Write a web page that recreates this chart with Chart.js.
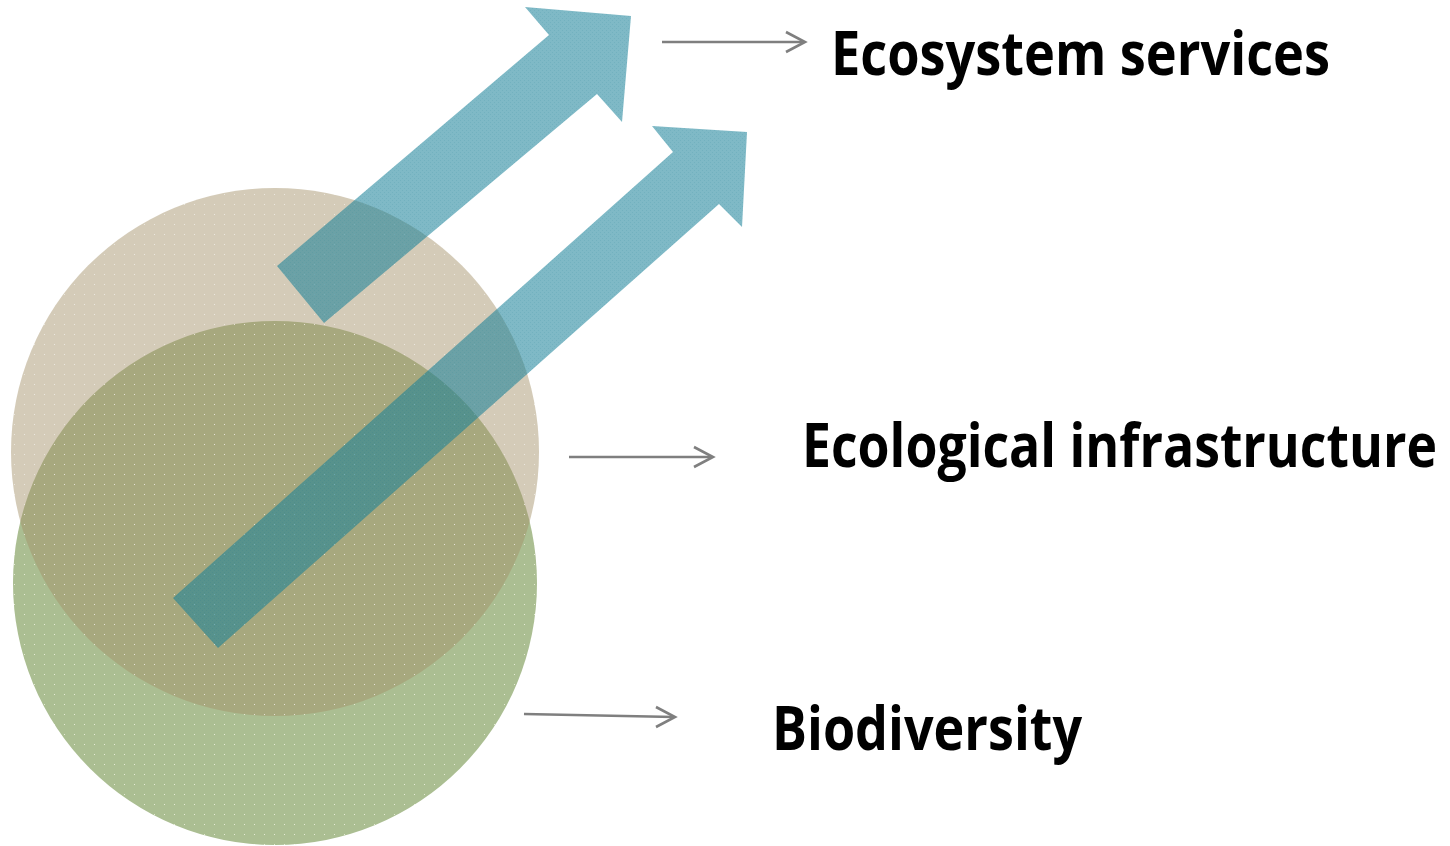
<!DOCTYPE html>
<html>
<head>
<meta charset="utf-8">
<script src="https://cdn.jsdelivr.net/npm/chart.js@4.4.1/dist/chart.umd.min.js"></script>
<style>
  html, body { margin: 0; padding: 0; background: #ffffff; }
  #wrap { position: relative; width: 1450px; height: 846px; }
</style>
</head>
<body>
<div id="wrap"><canvas id="c"></canvas></div>
<script>
// ---------------- DATA ----------------
// Circles (concept sets): centre x, centre y, radius
const circleNames = ['Biodiversity', 'Ecological infrastructure'];
const circleX = [275, 275];
const circleY = [583, 452];
const circleR = [262, 264];

// Broad block arrows (outline vertices, in diagram units)
const arrowServicesX = [277, 549, 525, 631, 622, 597, 324];
const arrowServicesY = [266, 35, 7, 16, 122, 94, 323];
const arrowInfraX = [173, 673, 652, 747, 742, 719, 218];
const arrowInfraY = [598, 152, 126, 132, 227, 204, 648];

// Thin connector arrows: shaft start/end and head points
const connShaftX = [[662, 804], [569, 712], [524, 674]];
const connShaftY = [[42, 42], [457, 457], [714, 717]];
const connHeadX = [[786, 805, 786], [694, 713, 694], [656, 675, 656]];
const connHeadY = [[32, 42, 52], [447, 457, 467], [707, 717, 727]];

// Text labels
const labelTexts = ['Ecosystem services', 'Ecological infrastructure', 'Biodiversity'];
const labelX = [831, 802, 772];
const labelY = [75, 467, 750];

// ---------------- STYLE / LAYOUT ----------------
const labelWidths = [499, 635, 310];
const labelCap = 43;

function dotPattern(base, dot) {
  const t = document.createElement('canvas');
  t.width = 10; t.height = 10;
  const g = t.getContext('2d');
  g.fillStyle = base; g.fillRect(0, 0, 10, 10);
  g.fillStyle = dot; g.fillRect(4, 4, 1, 1);
  return g.createPattern(t, 'repeat');
}
function hatchPattern(base, dot) {
  const t = document.createElement('canvas');
  t.width = 4; t.height = 4;
  const g = t.getContext('2d');
  g.fillStyle = base; g.fillRect(0, 0, 4, 4);
  g.fillStyle = dot; g.fillRect(0, 0, 1, 1); g.fillRect(2, 2, 1, 1);
  return g.createPattern(t, 'repeat');
}

const greenFill = dotPattern('rgb(171,190,146)', 'rgba(235,240,220,0.9)');
const tanFill = dotPattern('rgba(164,145,104,0.47)', 'rgba(255,255,255,0.55)');
const arrowFill = hatchPattern('rgba(22,127,151,0.55)', 'rgba(22,127,151,0.12)');
const connColor = '#7f7f7f';

const toPts = (xs, ys) => xs.map((x, i) => ({ x: x, y: ys[i] }));

const datasets = [];
// thin connectors (top)
connShaftX.forEach((xs, i) => {
  datasets.push({ type: 'line', data: toPts(xs, connShaftY[i]), borderColor: connColor, borderWidth: 2.6,
    pointRadius: 0, fill: false, tension: 0, order: 0, borderCapStyle: 'butt' });
  datasets.push({ type: 'line', data: toPts(connHeadX[i], connHeadY[i]), borderColor: connColor, borderWidth: 2.6,
    pointRadius: 0, fill: false, tension: 0, order: 0, borderJoinStyle: 'miter', borderCapStyle: 'butt' });
});
// block arrows
[[arrowServicesX, arrowServicesY], [arrowInfraX, arrowInfraY]].forEach(([xs, ys]) => {
  const pts = toPts(xs, ys);
  pts.push({ x: xs[0], y: ys[0] });
  datasets.push({ type: 'line', data: pts, borderWidth: 0, borderColor: 'rgba(0,0,0,0)',
    backgroundColor: arrowFill, fill: 'shape', pointRadius: 0, tension: 0, order: 1 });
});
// circles
datasets.push({ type: 'bubble', label: circleNames[1],
  data: [{ x: circleX[1], y: circleY[1], r: circleR[1] }],
  backgroundColor: tanFill, borderWidth: 0, order: 2, clip: false });
datasets.push({ type: 'bubble', label: circleNames[0],
  data: [{ x: circleX[0], y: circleY[0], r: circleR[0] }],
  backgroundColor: greenFill, borderWidth: 0, order: 3, clip: false });

const labelPlugin = {
  id: 'labels',
  afterDatasetsDraw(chart) {
    const ctx = chart.ctx;
    const xs = chart.scales.x, ys = chart.scales.y;
    const size = Math.round(labelCap / 0.714);
    ctx.save();
    ctx.fillStyle = '#000000';
    ctx.textBaseline = 'alphabetic';
    ctx.textAlign = 'left';
    ctx.font = '700 ' + size + 'px "Open Sans", "DejaVu Sans", sans-serif';
    labelTexts.forEach((txt, i) => {
      const w = ctx.measureText(txt).width;
      const sx = labelWidths[i] / w;
      ctx.save();
      ctx.translate(xs.getPixelForValue(labelX[i]), ys.getPixelForValue(labelY[i]));
      ctx.scale(sx, 1);
      ctx.fillText(txt, 0, 0);
      ctx.restore();
    });
    ctx.restore();
  }
};

new Chart(document.getElementById('c'), {
  type: 'scatter',
  data: { datasets: datasets },
  options: {
    responsive: true,
    maintainAspectRatio: false,
    animation: false,
    events: [],
    layout: { padding: 0, autoPadding: false },
    plugins: { legend: { display: false }, tooltip: { enabled: false }, title: { display: false } },
    scales: {
      x: { type: 'linear', min: 0, max: 1450, display: false },
      y: { type: 'linear', min: 0, max: 846, reverse: true, display: false }
    }
  },
  plugins: [labelPlugin]
});
</script>
</body>
</html>
